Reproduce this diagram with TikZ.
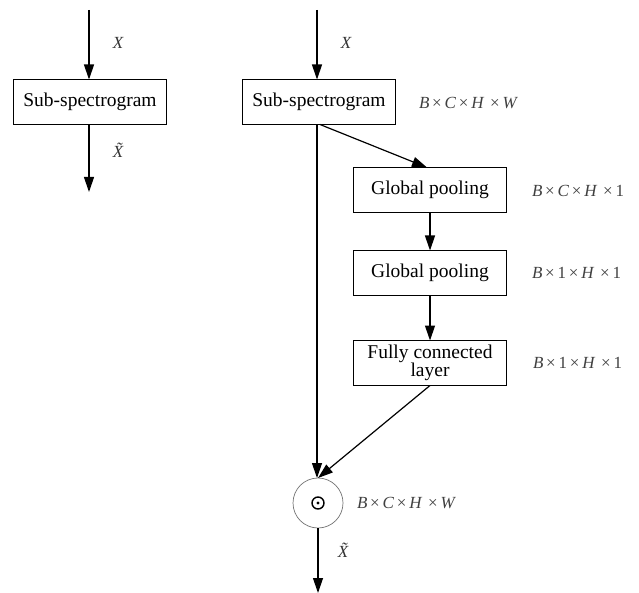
\documentclass[tikz,border=0pt]{standalone}
\usepackage{fontspec}
\setmainfont{Liberation Serif}
\usetikzlibrary{arrows.meta}
\newcommand{\tm}{\,×\,}
\newcommand{\xtilde}{X\char"0303\relax}
\begin{document}
\begin{tikzpicture}[x=1pt,y=-1pt,
  every node/.style={inner sep=0pt, outer sep=0pt},
  block/.style={draw, line width=1.1pt, minimum width=153pt, minimum height=45pt, align=center, font=\fontsize{19.5}{20}\selectfont},
  dim/.style={anchor=west, font=\fontsize{17}{18}\selectfont, text=black!75},
  sym/.style={font=\fontsize{17}{18}\selectfont\itshape, text=black!80},
  flow/.style={line width=1.2pt, -{Triangle[length=15pt,width=10pt]}}]
\useasboundingbox (0,0) rectangle (639,593);

% plain branch
\coordinate (lin) at (89,10);
\node[block] (lsub) at (90,102) {Sub-spectrogram};
\coordinate (lout) at (89,192);
\draw[flow] (lin) -- (lsub.north -| lin);
\draw[flow] (lsub.south -| lin) -- (lout);
\node[sym] (lx) at (118,43) {X};
\node[sym] (lxt) at (118,150) {\xtilde};

% attention branch
\coordinate (rin) at (317,10);
\node[block] (rsub) at (319,102) {Sub-spectrogram};
\node[dim] (d1) at (419,103) {\textit{B}\tm\textit{C}\tm\textit{H}\,\tm\textit{W}};
\node[sym] (rx) at (346,43) {X};

\node[block] (gp1) at (430,190) {Global pooling};
\node[dim] (d2) at (532,191) {\textit{B}\tm\textit{C}\tm\textit{H}\,\tm1};
\node[block] (gp2) at (430,273) {Global pooling};
\node[dim] (d3) at (532,273) {\textit{B}\tm1\tm\textit{H}\,\tm1};
\node[block,font=\fontsize{19.5}{19}\selectfont] (fc) at (430,363) {Fully connected\\[-1pt]layer};
\node[dim] (d4) at (533,363) {\textit{B}\tm1\tm\textit{H}\,\tm1};

% element-wise product
\node[circle, draw=black!55, line width=0.7pt, minimum size=50pt] (mul) at (318,503) {};
\draw[line width=1.4pt] (mul.center) circle (6pt);
\fill (mul.center) circle (1.6pt);
\node[dim] (d5) at (357,503) {\textit{B}\tm\textit{C}\tm\textit{H}\,\tm\textit{W}};
\coordinate (rout) at (318,593);
\node[sym] (rxt) at (343,550) {\xtilde};

\draw[flow] (rin) -- (rsub.north -| rin);
\draw[flow] ([xshift=1pt]rsub.south) -- ([xshift=-3pt]gp1.north);
\draw[flow] (gp1) -- (gp2);
\draw[flow] (gp2) -- (fc);
\draw[flow] (rsub.south -| rin) -- (mul.north -| rin);
\draw[flow] (fc.south) -- (mul.north);
\draw[flow] (mul.south) -- (rout);
\end{tikzpicture}
\end{document}
